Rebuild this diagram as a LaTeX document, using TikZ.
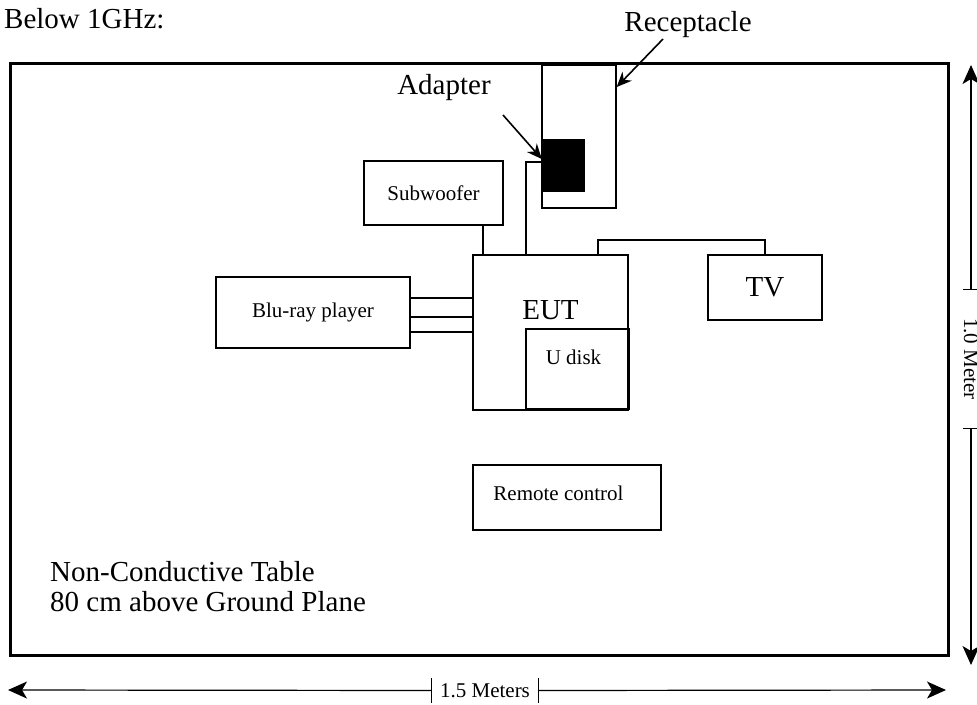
\documentclass[tikz,border=0pt]{standalone}
\usepackage{fontspec}
\setmainfont{Liberation Serif}
\usetikzlibrary{arrows.meta}

\begin{document}
\begin{tikzpicture}[x=1pt, y=-1pt,
  box/.style={rectangle, draw=black, line width=1.4pt, inner sep=0pt},
  bigtxt/.style={font=\fontsize{29}{30}\selectfont},
  smalltxt/.style={font=\fontsize{21}{22}\selectfont},
  wire/.style={line width=1.4pt},
  arr/.style={-{Stealth[length=15pt, width=13pt]}, line width=1.6pt},
  dimarr/.style={-{Stealth[length=19pt, width=17pt, inset=5pt]}, line width=1.2pt}]
  \useasboundingbox (0,0) rectangle (977,704);
  \node[bigtxt, anchor=west, inner sep=0pt] (title) at (4,19) {Below 1GHz:};
  \node[rectangle, draw=black, line width=3pt, minimum width=938pt, minimum height=592pt] (tbl) at (479,359) {};
  % units on the table
  \node[box, minimum width=74pt, minimum height=143pt] (rec) at (579,136.5) {};
  \node[rectangle, fill=black, inner sep=0pt, minimum width=43pt, minimum height=53pt] (adp) at (563.5,165.5) {};
  \node[box, smalltxt, minimum width=139pt, minimum height=64pt] (sub) at (433.5,193) {Subwoofer};
  \node[box, minimum width=155pt, minimum height=155pt,
        label={[bigtxt, yshift=22pt]center:EUT}] (eut) at (550.5,332.5) {};
  \node[box, minimum width=103pt, minimum height=80pt,
        label={[smalltxt, xshift=-4pt, yshift=12pt]center:U disk}] (udisk) at (577.5,369) {};
  \node[box, smalltxt, minimum width=194pt, minimum height=71pt] (blu) at (313,312.5) {Blu-ray player};
  \node[box, bigtxt, minimum width=114pt, minimum height=65pt] (tv) at (765,287.5) {TV};
  \node[box, minimum width=188pt, minimum height=65pt,
        label={[smalltxt, xshift=-8.5pt, yshift=4pt]center:Remote control}] (remote) at (567,497.5) {};
  \node[bigtxt] (reclbl) at (688,25) {Receptacle};
  \node[bigtxt] (adlbl) at (444,88) {Adapter};
  \node[bigtxt, anchor=west, align=left, inner sep=0pt] (note) at (50,587) {Non-Conductive Table\\80 cm above Ground Plane};
  % cables
  \draw[wire] (483,0 |- sub.south) -- (483,0 |- eut.north);
  \draw[wire] (adp.west |- 0,162) -| (526,0 |- eut.north);
  \draw[wire] (598,0 |- eut.north) -- (598,240) -| (tv.north);
  \foreach \y in {298,317,332}
    \draw[wire] (blu.east |- 0,\y) -- (eut.west |- 0,\y);
  % pointers
  \coordinate (adtail) at (503,115);
  \coordinate (rctail) at (663,39);
  \draw[arr] (adtail) -- (adp.west |- 0,159);
  \draw[arr] (rctail) -- (rec.east |- 0,87);
  % dimensions
  \node[smalltxt, inner sep=0pt, minimum width=106pt, minimum height=25pt] (wlbl) at (485,690.5) {1.5 Meters};
  \draw[line width=1.2pt] (wlbl.north west) -- (wlbl.south west) (wlbl.north east) -- (wlbl.south east);
  \coordinate (wleft) at (8,690);
  \coordinate (wright) at (946,690);
  \draw[dimarr] (wlbl.west) -- (wleft);
  \draw[dimarr] (wlbl.east) -- (wright);
  \node[smalltxt, rotate=-90, inner sep=0pt, minimum width=138pt, minimum height=16pt] (hlbl) at (971,359) {1.0 Meter};
  \draw[line width=1.2pt] (hlbl.north west) -- (hlbl.south west) (hlbl.north east) -- (hlbl.south east);
  \coordinate (htop) at (971,65);
  \coordinate (hbot) at (971,665);
  \draw[dimarr] (hlbl.west) -- (htop);
  \draw[dimarr] (hlbl.east) -- (hbot);
\end{tikzpicture}
\end{document}
